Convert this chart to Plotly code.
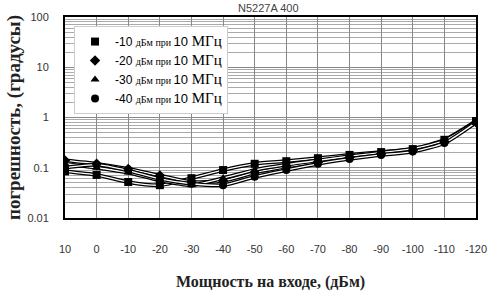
import plotly.graph_objects as go

# ---- data ----
x_ticks = [10, 0, -10, -20, -30, -40, -50, -60, -70, -80, -90, -100, -110, -120]
y_tickvals = [0.01, 0.1, 1, 10, 100]
y_ticktext = ["0.01", "0.1", "1", "10", "100"]

power = [10, 0, -10, -20, -30, -40, -50, -60, -70, -80, -90, -100, -110, -120]
err_m10 = [0.085, 0.072, 0.052, 0.045, 0.062, 0.09, 0.12, 0.135, 0.155, 0.18, 0.205, 0.235, 0.36, 0.85]
err_m20 = [0.14, 0.12, 0.095, 0.07, 0.052, 0.055, 0.08, 0.105, 0.13, 0.16, 0.19, 0.22, 0.33, 0.8]
err_m30 = [0.12, 0.1, 0.08, 0.056, 0.045, 0.062, 0.09, 0.115, 0.14, 0.17, 0.2, 0.24, 0.35, 0.82]
err_m40 = [0.1, 0.115, 0.088, 0.06, 0.048, 0.045, 0.066, 0.09, 0.12, 0.15, 0.18, 0.21, 0.31, 0.8]

series = [
    ("-10", err_m10, "square"),
    ("-20", err_m20, "diamond"),
    ("-30", err_m30, "triangle-up"),
    ("-40", err_m40, "circle"),
]

def legend_name(p):
    return (f'<span style="font-family:Liberation Sans;font-size:12px">{p} </span>'
            f'<span style="font-family:Liberation Serif;font-size:10px">дБм при </span>'
            f'<span style="font-family:Liberation Sans;font-size:13px">10 </span>'
            f'<span style="font-family:Liberation Serif;font-size:15px">МГц</span>')

fig = go.Figure()
for p, vals, sym in series:
    fig.add_trace(go.Scatter(x=power, y=vals, mode="lines", showlegend=False,
                             line=dict(color="black", width=3.8, shape="spline", smoothing=0.6),
                             hoverinfo="skip"))
    fig.add_trace(go.Scatter(x=power, y=vals, mode="lines", showlegend=False,
                             line=dict(color="white", width=1.3, shape="spline", smoothing=0.6),
                             hoverinfo="skip"))
for p, vals, sym in series:
    fig.add_trace(go.Scatter(x=power, y=vals, mode="markers", name=legend_name(p),
                             marker=dict(symbol=sym, size=8, color="black")))

fig.update_layout(
    width=498, height=299,
    margin=dict(l=65, r=11, t=14, b=75),
    plot_bgcolor="white", paper_bgcolor="white",
    font=dict(family="Liberation Sans", size=11, color="#333"),
    legend=dict(x=0.022, y=0.955, xanchor="left", yanchor="top",
                bgcolor="white", bordercolor="#ccc", borderwidth=1,
                font=dict(size=11, color="black"), tracegroupgap=0,
                itemwidth=30),
    annotations=[
        dict(text="N5227A 400", xref="paper", yref="paper", x=0.495, y=1.0,
             yanchor="bottom", yshift=1, showarrow=False,
             font=dict(family="Liberation Sans", size=11, color="#444")),
    ],
)
fig.update_xaxes(
    range=[10, -120], tickvals=x_ticks, ticktext=[str(v) for v in x_ticks],
    showgrid=True, gridcolor="#888", gridwidth=1,
    showline=True, linecolor="black", linewidth=2, mirror=True,
    ticks="outside", ticklen=20, tickcolor="rgba(0,0,0,0)",
    tickfont=dict(size=11, color="#333"),
    title=dict(text="<b>Мощность на входе, (дБм)</b>",
               font=dict(family="Liberation Serif", size=16, color="#222"), standoff=22),
    zeroline=False,
)
fig.update_yaxes(
    type="log", range=[-2, 2], tickvals=y_tickvals, ticktext=y_ticktext,
    showgrid=True, gridcolor="#888", gridwidth=1,
    minor=dict(showgrid=True, gridcolor="#aaa", dtick="D1"),
    showline=True, linecolor="black", linewidth=2, mirror=True,
    ticks="outside", ticklen=12, tickcolor="rgba(0,0,0,0)",
    tickfont=dict(size=11, color="#333"),
    title=dict(text="<b>погрешность, (градусы)</b>",
               font=dict(family="Liberation Serif", size=19, color="#222"), standoff=2),
    zeroline=False,
)

fig.write_html("out.html")
